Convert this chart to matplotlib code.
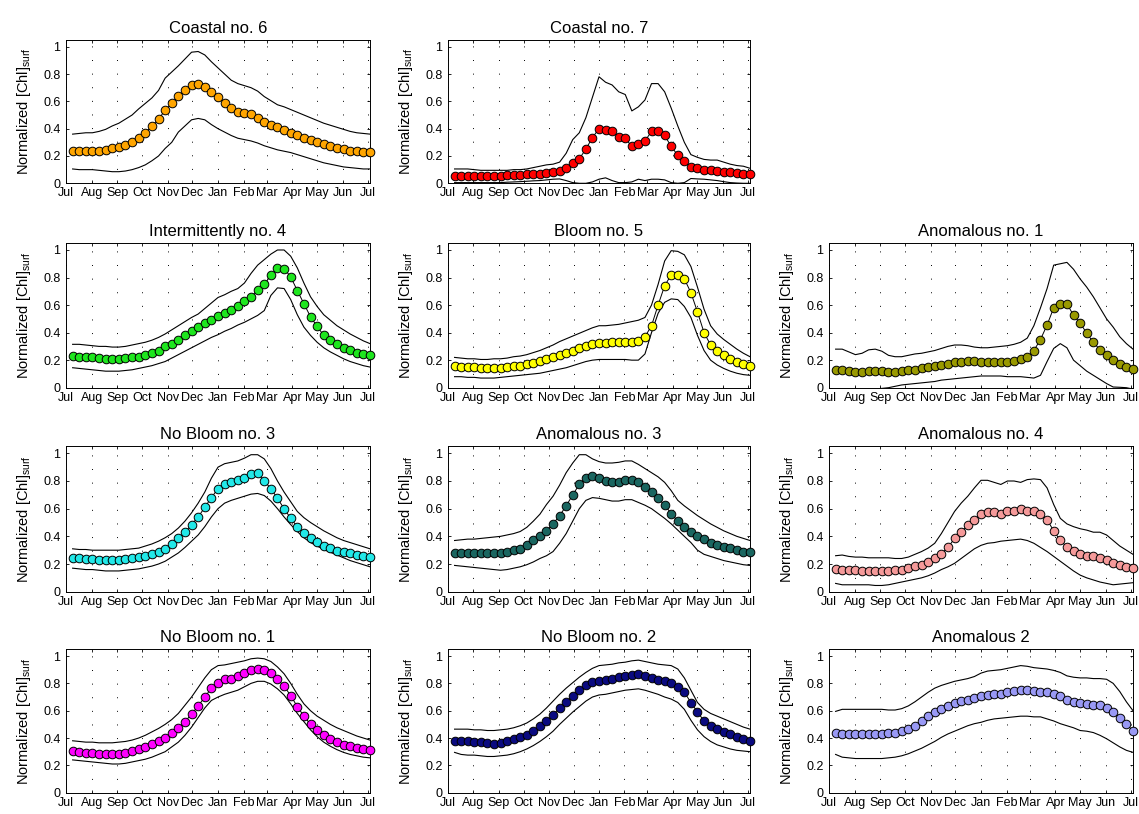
import numpy as np
import matplotlib
matplotlib.use('Agg')
import matplotlib.pyplot as plt

plt.rcParams['font.family'] = ['Liberation Sans', 'DejaVu Sans']
plt.rcParams['mathtext.fontset'] = 'custom'
plt.rcParams['mathtext.rm'] = 'Liberation Sans'

# 8-day composites, days since 1 Jul
days = list(range(8, 369, 8))
month_days = [0, 31, 62, 92, 123, 153, 184, 215, 243, 274, 304, 335, 365]
month_names = ['Jul', 'Aug', 'Sep', 'Oct', 'Nov', 'Dec', 'Jan', 'Feb', 'Mar',
               'Apr', 'May', 'Jun', 'Jul']

coastal6_mean = [.235,.235,.235,.235,.24,.245,.255,.265,.28,.305, .335,.37,.42,.47,.535,.585,.64,.68,.72,.725,
                 .705,.67,.63,.59,.55,.525,.515,.505,.48,.45, .43,.41,.39,.37,.355,.335,.32,.30,.285,.275,
                 .26,.25,.24,.235,.232,.232]
coastal6_hi = [.36,.365,.37,.37,.38,.395,.42,.44,.47,.50, .545,.585,.625,.68,.77,.815,.86,.91,.96,.965,
               .94,.89,.845,.80,.755,.73,.715,.70,.675,.635, .605,.575,.56,.54,.52,.50,.48,.46,.44,.425,
               .41,.395,.38,.37,.365,.36]
coastal6_lo = [.105,.10,.10,.10,.095,.09,.085,.085,.09,.10, .115,.135,.165,.20,.255,.30,.375,.42,.465,.475,
               .465,.43,.40,.375,.35,.33,.32,.31,.295,.275, .26,.245,.235,.225,.21,.195,.18,.165,.15,.14,
               .13,.12,.115,.11,.105,.105]

coastal7_mean = [.055,.055,.055,.055,.055,.055,.055,.055,.06,.06, .06,.065,.065,.07,.075,.08,.09,.11,.145,.18,
                 .25,.335,.40,.39,.385,.34,.33,.27,.29,.31, .38,.38,.35,.27,.205,.16,.12,.11,.10,.095,
                 .09,.085,.08,.075,.07,.065]
coastal7_hi = [.105,.105,.105,.10,.095,.095,.095,.095,.095,.10, .10,.105,.115,.125,.135,.14,.155,.22,.32,.37,
               .48,.63,.78,.74,.72,.67,.65,.53,.56,.61, .73,.73,.67,.55,.42,.30,.21,.19,.175,.17,
               .17,.155,.14,.13,.125,.11]
coastal7_lo = [.005,.005,.005,.005,.005,.005,.005,.005,.008,.01, .012,.015,.018,.02,.025,.03,.032,.02,.005,0,
               0,.01,.03,.04,.02,.005,.005,.01,.03,.02, .03,.03,.025,.005,0,.005,.035,.032,.03,.025,
               .02,.012,.005,.002,0,0]

inter4_mean = [.23,.225,.22,.22,.215,.21,.205,.21,.215,.22, .225,.24,.255,.27,.30,.32,.35,.38,.41,.44,
               .47,.495,.52,.54,.565,.59,.63,.66,.71,.75, .815,.87,.865,.805,.705,.61,.515,.445,.38,.345,
               .315,.29,.275,.255,.245,.235]
inter4_hi = [.315,.315,.31,.305,.30,.30,.295,.295,.30,.31, .32,.33,.345,.365,.39,.42,.45,.48,.51,.535,
             .575,.615,.655,.675,.70,.72,.76,.83,.89,.93, .97,1.0,1.0,.955,.87,.76,.66,.59,.53,.49,
             .45,.42,.39,.365,.34,.32]
inter4_lo = [.145,.14,.135,.13,.125,.12,.12,.12,.125,.13, .14,.15,.16,.175,.19,.215,.24,.265,.29,.315,
             .34,.365,.385,.41,.43,.455,.475,.50,.525,.56, .67,.725,.72,.64,.53,.44,.38,.33,.29,.26,
             .235,.21,.19,.175,.16,.15]

bloom5_mean = [.155,.15,.15,.15,.145,.145,.14,.145,.15,.155, .16,.17,.18,.195,.21,.225,.24,.255,.27,.285,
               .305,.32,.325,.325,.33,.33,.335,.335,.34,.37, .45,.60,.74,.82,.82,.79,.69,.55,.40,.31,
               .265,.235,.21,.19,.175,.16]
bloom5_hi = [.22,.215,.21,.21,.205,.205,.21,.21,.215,.225, .23,.24,.255,.27,.29,.31,.335,.355,.375,.395,
             .415,.435,.45,.45,.455,.46,.47,.48,.49,.51, .60,.75,.92,.995,.99,.965,.88,.73,.57,.45,
             .39,.35,.315,.28,.25,.225]
bloom5_lo = [.08,.08,.075,.075,.07,.07,.07,.075,.08,.085, .09,.095,.10,.105,.115,.125,.135,.145,.16,.175,
             .19,.20,.205,.205,.205,.205,.205,.20,.20,.245, .40,.54,.62,.645,.64,.59,.51,.38,.27,.20,
             .165,.14,.12,.105,.095,.09]

anom1_mean = [.13,.125,.12,.115,.115,.12,.12,.12,.115,.115, .12,.125,.13,.14,.15,.16,.165,.175,.185,.19,
              .195,.195,.19,.19,.19,.19,.19,.195,.205,.22, .27,.35,.455,.58,.61,.61,.525,.47,.395,.33,
              .275,.235,.20,.17,.15,.135]
anom1_hi = [.28,.28,.26,.24,.25,.275,.28,.265,.235,.225, .225,.235,.245,.25,.26,.27,.285,.30,.31,.31,
            .305,.295,.29,.29,.295,.30,.305,.315,.33,.36, .45,.58,.72,.89,.90,.91,.86,.79,.73,.66,
            .58,.50,.44,.37,.32,.28]
anom1_lo = [-.03,-.03,-.035,-.03,-.025,-.02,-.01,-.005,0,.01, .02,.025,.03,.035,.04,.045,.055,.06,.065,.07,
            .075,.08,.085,.085,.085,.085,.08,.08,.08,.075, .07,.09,.19,.285,.32,.29,.20,.16,.12,.09,
            .06,.03,.005,.003,0,-.01]

nob3_mean = [.245,.24,.235,.233,.232,.23,.23,.232,.235,.24, .25,.26,.275,.29,.31,.345,.385,.43,.485,.54,
             .61,.68,.745,.78,.795,.805,.82,.85,.855,.80, .745,.675,.60,.53,.47,.425,.39,.36,.33,.315,
             .295,.285,.277,.267,.258,.25]
nob3_hi = [.31,.305,.305,.30,.30,.30,.30,.30,.305,.31, .315,.33,.345,.365,.39,.42,.46,.51,.57,.64,
           .72,.82,.90,.925,.935,.945,.965,.99,.99,.96, .89,.80,.72,.65,.58,.535,.50,.47,.44,.415,
           .39,.37,.355,.34,.325,.31]
nob3_lo = [.17,.165,.16,.16,.155,.15,.15,.15,.155,.16, .165,.175,.185,.20,.22,.25,.28,.32,.365,.41,
           .47,.54,.60,.64,.66,.675,.69,.705,.71,.695, .655,.60,.54,.485,.435,.39,.355,.33,.305,.285,
           .265,.245,.225,.21,.195,.18]

anom3_mean = [.28,.28,.28,.28,.28,.28,.28,.28,.29,.30, .31,.335,.37,.40,.44,.49,.55,.62,.70,.775,
              .825,.835,.825,.80,.79,.795,.81,.81,.795,.755, .72,.675,.625,.565,.51,.47,.435,.405,.38,.355,
              .337,.325,.315,.30,.29,.285]
anom3_hi = [.37,.375,.38,.38,.385,.39,.395,.40,.41,.42, .435,.465,.51,.56,.63,.69,.77,.86,.93,.99,
            .99,.96,.94,.93,.93,.935,.945,.945,.92,.89, .86,.83,.79,.73,.66,.62,.585,.55,.52,.49,
            .465,.44,.42,.40,.385,.37]
anom3_lo = [.19,.185,.18,.175,.17,.165,.16,.155,.16,.17, .18,.195,.215,.24,.26,.29,.35,.42,.51,.60,
            .66,.68,.675,.665,.655,.655,.665,.665,.645,.625, .60,.565,.53,.49,.445,.40,.355,.30,.27,.255,
            .24,.225,.215,.205,.195,.19]

anom4_mean = [.165,.16,.155,.155,.15,.15,.15,.15,.15,.155, .16,.17,.185,.195,.215,.24,.275,.32,.385,.435,
              .48,.52,.565,.575,.575,.56,.585,.585,.595,.58, .585,.565,.52,.44,.37,.325,.295,.275,.26,.255,
              .245,.23,.205,.19,.18,.17]
anom4_hi = [.26,.265,.255,.25,.25,.245,.245,.245,.245,.24, .24,.25,.27,.29,.315,.35,.42,.50,.58,.64,
            .69,.75,.805,.805,.79,.775,.80,.80,.79,.81, .815,.81,.75,.63,.53,.49,.47,.455,.445,.43,
            .43,.41,.37,.33,.30,.27]
anom4_lo = [.06,.05,.05,.05,.05,.05,.045,.045,.05,.06, .07,.08,.09,.10,.115,.135,.16,.18,.205,.24,
            .275,.31,.335,.35,.355,.365,.37,.375,.38,.37, .35,.32,.29,.255,.22,.185,.15,.12,.10,.085,
            .07,.06,.05,.055,.06,.065]

nob1_mean = [.305,.295,.293,.288,.283,.28,.28,.283,.293,.305, .317,.334,.354,.378,.40,.434,.47,.52,.575,.635,
             .70,.765,.805,.83,.835,.855,.875,.895,.905,.895, .875,.83,.78,.71,.63,.56,.50,.46,.42,.39,
             .37,.35,.34,.33,.32,.31]
nob1_hi = [.38,.375,.37,.37,.365,.365,.365,.37,.375,.385, .40,.42,.445,.47,.50,.535,.58,.64,.70,.77,
           .84,.90,.93,.935,.945,.955,.965,.98,.985,.98, .96,.92,.87,.80,.72,.65,.60,.56,.53,.50,
           .475,.455,.435,.415,.40,.385]
nob1_lo = [.24,.235,.23,.225,.22,.215,.21,.21,.215,.225, .235,.245,.26,.28,.30,.335,.37,.42,.48,.55,
           .62,.675,.70,.72,.735,.75,.775,.80,.815,.815, .795,.76,.715,.65,.58,.52,.46,.41,.37,.34,
           .315,.295,.28,.27,.26,.255]

nob2_mean = [.38,.375,.375,.37,.37,.365,.36,.365,.375,.39, .405,.425,.45,.485,.525,.57,.62,.665,.71,.75,
             .785,.81,.82,.825,.835,.845,.855,.86,.865,.855, .84,.825,.815,.80,.775,.735,.66,.59,.525,.49,
             .465,.445,.43,.41,.39,.38]
nob2_hi = [.465,.465,.465,.46,.46,.455,.455,.46,.465,.475, .49,.51,.54,.575,.62,.67,.72,.765,.805,.845,
           .88,.91,.93,.935,.94,.95,.955,.965,.97,.96, .95,.94,.935,.93,.905,.84,.75,.66,.61,.58,
           .56,.54,.52,.50,.48,.465]
nob2_lo = [.295,.28,.275,.275,.27,.265,.265,.27,.275,.285, .30,.32,.345,.375,.41,.45,.50,.545,.59,.63,
           .67,.70,.715,.72,.73,.74,.75,.755,.76,.75, .735,.72,.70,.685,.66,.61,.53,.46,.41,.375,
           .35,.335,.32,.31,.305,.30]

anom2_mean = [.435,.43,.43,.43,.43,.43,.43,.43,.435,.44, .45,.465,.49,.525,.56,.59,.615,.635,.655,.67,
              .68,.695,.705,.715,.72,.725,.735,.745,.75,.755, .745,.74,.735,.725,.71,.68,.665,.655,.65,.645,
              .64,.62,.59,.55,.505,.45]
anom2_hi = [.595,.61,.61,.61,.61,.61,.61,.61,.605,.605, .615,.635,.665,.70,.735,.765,.785,.80,.815,.825,
            .835,.85,.875,.89,.895,.90,.91,.92,.93,.925, .915,.91,.905,.895,.88,.855,.845,.84,.84,.835,
            .835,.83,.80,.74,.665,.60]
anom2_lo = [.28,.26,.255,.25,.25,.25,.25,.25,.255,.26, .27,.285,.305,.325,.35,.375,.405,.43,.45,.47,
            .49,.505,.515,.53,.54,.545,.55,.555,.56,.56, .555,.555,.54,.525,.505,.49,.475,.455,.45,.44,
            .42,.395,.365,.335,.31,.295]

titles = ['Coastal no. 6', 'Coastal no. 7', None,
          'Intermittently no. 4', 'Bloom no. 5', 'Anomalous no. 1',
          'No Bloom no. 3', 'Anomalous no. 3', 'Anomalous no. 4',
          'No Bloom no. 1', 'No Bloom no. 2', 'Anomalous 2']
colors = ['#FFA500', '#FF0000', None,
          '#1EE61E', '#FFFF00', '#999900',
          '#22E8E8', '#1A6660', '#F59A9A',
          '#FF00FF', '#0A0A80', '#9999F5']
series = [(coastal6_mean, coastal6_hi, coastal6_lo), (coastal7_mean, coastal7_hi, coastal7_lo), None,
          (inter4_mean, inter4_hi, inter4_lo), (bloom5_mean, bloom5_hi, bloom5_lo), (anom1_mean, anom1_hi, anom1_lo),
          (nob3_mean, nob3_hi, nob3_lo), (anom3_mean, anom3_hi, anom3_lo), (anom4_mean, anom4_hi, anom4_lo),
          (nob1_mean, nob1_hi, nob1_lo), (nob2_mean, nob2_hi, nob2_lo), (anom2_mean, anom2_hi, anom2_lo)]

W, H = 1139, 814
fig = plt.figure(figsize=(W / 100, H / 100), dpi=100)

col_left = [66, 448, 829]
col_w = [304, 302, 304]
row_bottom = [183.3, 387.7, 591.7, 792.7]
row_h = [143.4, 144.6, 145.3, 143.5]

for i in range(12):
    if series[i] is None:
        continue
    r, c = i // 3, i % 3
    ax = fig.add_axes([col_left[c] / W, 1 - row_bottom[r] / H, col_w[c] / W, row_h[r] / H])
    mean, hi, lo = series[i]
    for d in month_days:
        ax.axvline(d, color='k', lw=0.7, ls=(0, (1, 13)), zorder=0)
    ax.plot(days, hi, color='k', lw=0.8)
    ax.plot(days, lo, color='k', lw=0.8)
    ax.plot(days, mean, '-o', color='k', lw=0.7, ms=6.2, mfc=colors[i], mec='k', mew=0.7,
            clip_on=False, zorder=3)
    ax.set_xlim(0, 368)
    ax.set_ylim(0, 1.05)
    ax.set_xticks(month_days)
    ax.set_xticklabels(month_names)
    ax.set_yticks([0, 0.2, 0.4, 0.6, 0.8, 1])
    ax.set_yticklabels(['0', '0.2', '0.4', '0.6', '0.8', '1'])
    ax.tick_params(direction='in', length=2.5, width=0.6, labelsize=9, top=True, right=True, pad=3)
    ax.tick_params(axis='y', pad=4)
    for s in ax.spines.values():
        s.set_linewidth(0.7)
    ax.set_title(titles[i], fontsize=12, pad=5)
    ax.set_ylabel(r'Normalized [Chl]$_{\mathrm{surf}}$', fontsize=10.5, labelpad=7)

fig.savefig('out.png', dpi=100)
